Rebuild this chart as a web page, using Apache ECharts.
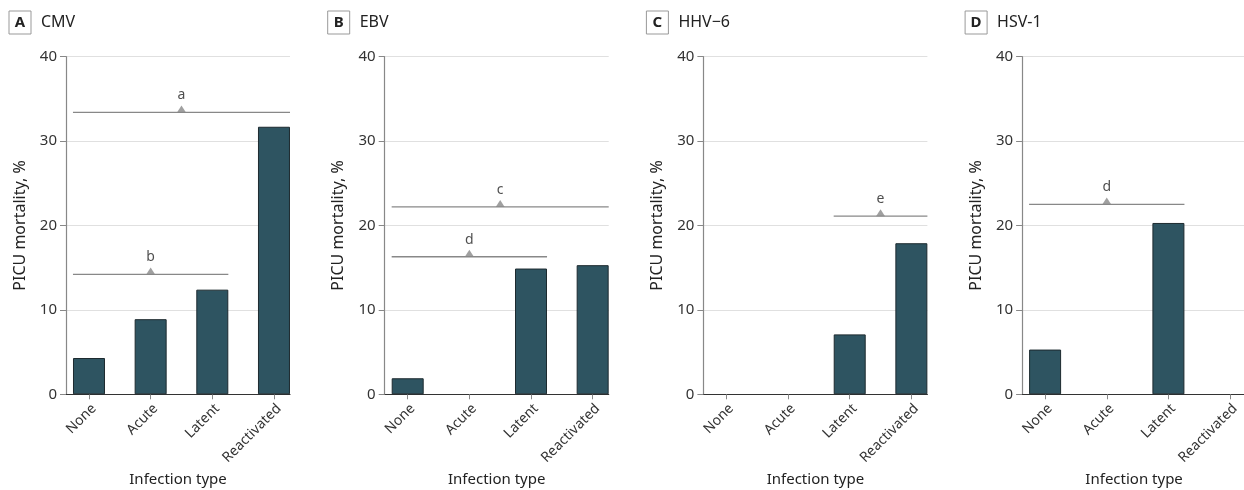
<!DOCTYPE html>
<html>
<head>
<meta charset="utf-8">
<script src="https://cdn.jsdelivr.net/npm/echarts@6/dist/echarts.min.js"></script>
<style>
  html, body { margin: 0; padding: 0; background: #fff; }
  #chart { width: 1244px; height: 490px; }
</style>
</head>
<body>
<div id="chart"></div>
<script>
// ---- Data ----
const categories = ['None', 'Acute', 'Latent', 'Reactivated'];
const panelLetters = ['A', 'B', 'C', 'D'];
const panelNames = ['CMV', 'EBV', 'HHV\u22126', 'HSV-1'];
const cmvValues = [4.3, 8.9, 12.4, 31.7];
const ebvValues = [1.9, 0, 14.9, 15.3];
const hhv6Values = [0, 0, 7.1, 17.9];
const hsv1Values = [5.3, 0, 20.3, 0];
const yTicks = [0, 10, 20, 30, 40];
// brackets: [fromCategoryIndex, toCategoryIndex, yValue, label]
const cmvBrackets = [[0, 3, 33.4, 'a'], [0, 2, 14.2, 'b']];
const ebvBrackets = [[0, 3, 22.2, 'c'], [0, 2, 16.3, 'd']];
const hhv6Brackets = [[2, 3, 21.1, 'e']];
const hsv1Brackets = [[0, 2, 22.5, 'd']];

const panelValues = [cmvValues, ebvValues, hhv6Values, hsv1Values];
const panelBrackets = [cmvBrackets, ebvBrackets, hhv6Brackets, hsv1Brackets];

// ---- Layout ----
const FONT = 'Noto Sans';
const axisX0 = 66, panelStep = 318.7, plotW = 224, plotTop = 56.7, plotH = 337.6;
const xMin = -0.373, xMax = 3.26, halfBar = 0.26;
const barColor = '#2e5461';

const grids = [], xAxes = [], yAxes = [], series = [], titles = [];
panelValues.forEach((vals, i) => {
  const left = axisX0 + i * panelStep;
  grids.push({ left: left, top: plotTop, width: plotW, height: plotH, containLabel: false, outerBoundsMode: 'none' });
  titles.push({
    left: left - 57, top: 11, padding: 0,
    text: '{box|' + panelLetters[i] + '}{name|' + panelNames[i] + '}',
    textStyle: {
      fontWeight: 'normal',
      rich: {
        box: { fontFamily: FONT, fontSize: 15, fontWeight: 'bold', color: '#222', borderColor: '#999', borderWidth: 1,
               width: 22, height: 23, align: 'center', verticalAlign: 'middle', lineHeight: 23 },
        name: { fontFamily: FONT, fontSize: 16, fontWeight: 'normal', color: '#222', padding: [0, 0, 0, 10], lineHeight: 23 }
      }
    }
  });
  xAxes.push({
    type: 'value', gridIndex: i, min: xMin, max: xMax,
    name: 'Infection type', nameLocation: 'middle', nameGap: 76,
    nameTextStyle: { fontFamily: FONT, fontSize: 15, color: '#222' },
    axisLine: { show: true, onZero: false, lineStyle: { color: '#333', width: 1.2 } },
    axisTick: { show: true, length: 5, customValues: [0, 1, 2, 3], lineStyle: { color: '#888' } },
    axisLabel: {
      customValues: [0, 1, 2, 3], rotate: 45, margin: 7, verticalAlign: 'top',
      fontFamily: FONT, fontSize: 14, color: '#333',
      formatter: v => categories[Math.round(v)]
    },
    splitLine: { show: false }
  });
  yAxes.push({
    type: 'value', gridIndex: i, min: yTicks[0], max: yTicks[yTicks.length - 1], interval: 10,
    name: 'PICU mortality, %', nameLocation: 'middle', nameGap: 38, nameRotate: 90,
    nameTextStyle: { fontFamily: FONT, fontSize: 16, color: '#222' },
    axisLine: { show: true, onZero: false, lineStyle: { color: '#888', width: 1.2 } },
    axisTick: { show: true, length: 6, lineStyle: { color: '#888' } },
    axisLabel: { margin: 9, fontFamily: FONT, fontSize: 15, color: '#333' },
    splitLine: { show: true, lineStyle: { color: '#e0e0e0', width: 1.2 } }
  });
  series.push({
    type: 'bar', xAxisIndex: i, yAxisIndex: i, barWidth: 32,
    data: vals.map((v, k) => ({ value: [k, v], itemStyle: v === 0 ? { borderWidth: 0 } : undefined })),
    itemStyle: { color: barColor, borderColor: '#1d2a2f', borderWidth: 1 },
    z: 3
  });
  panelBrackets[i].forEach(b => {
    const x1 = b[0] - halfBar, x2 = b[1] + halfBar;
    series.push({
      type: 'line', xAxisIndex: i, yAxisIndex: i, symbol: 'none',
      data: [[x1, b[2]], [x2, b[2]]],
      lineStyle: { color: '#888', width: 1.3 }, z: 4, silent: true
    });
    series.push({
      type: 'scatter', xAxisIndex: i, yAxisIndex: i,
      symbol: 'triangle', symbolSize: [9, 7], symbolOffset: [0, -3.5],
      data: [[(x1 + x2) / 2, b[2]]],
      itemStyle: { color: '#888' },
      label: { show: true, position: 'top', distance: 3, formatter: b[3], fontFamily: FONT, fontSize: 14, color: '#222' },
      z: 5, silent: true
    });
  });
});

const chart = echarts.init(document.getElementById('chart'), null, { renderer: 'canvas' });
chart.setOption({
  animation: false,
  backgroundColor: '#fff',
  title: titles,
  grid: grids,
  xAxis: xAxes,
  yAxis: yAxes,
  series: series
});
</script>
</body>
</html>
